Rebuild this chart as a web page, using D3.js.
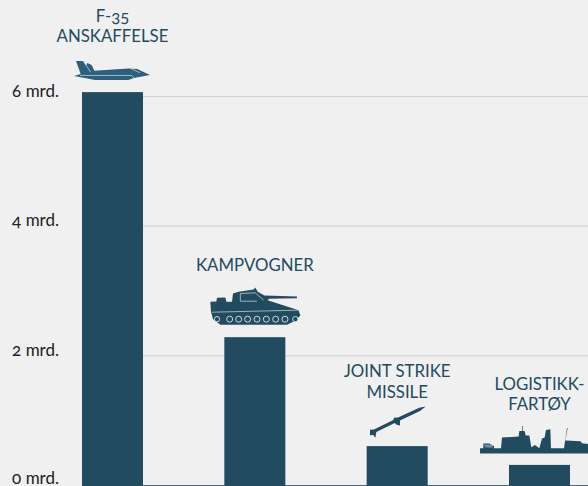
<!DOCTYPE html>
<html>
<head>
<meta charset="utf-8">
<script src="https://cdnjs.cloudflare.com/ajax/libs/d3/7.8.5/d3.min.js"></script>
<style>
  html, body { margin: 0; padding: 0; background: #f0f0f0; overflow: hidden; }
  svg { display: block; font-family: Lato, "Open Sans", sans-serif; font-variant-numeric: oldstyle-nums; }
</style>
</head>
<body>
<div id="app"></div>
<script>
const width = 588;
const height = 486;

const categories = ['f35', 'kampvogner', 'jsm', 'logistikk'];
const values = [6.06, 2.28, 0.6, 0.31];
const tickValues = [0, 2, 4, 6];
const labels = [
  ['F-35', 'ANSKAFFELSE'],
  ['KAMPVOGNER'],
  ['JOINT STRIKE', 'MISSILE'],
  ['LOGISTIKK-', 'FARTØY'],
];
// gap between bar top and last baseline of its label
const labelOffsets = [50, 66, 48, 55];
const lineHeights = [20, 20, 21, 20];

const dark = '#224b60';
const iconBlue = '#2b5f7c';

const x = d3.scaleBand().domain(categories).range([82, 570]).paddingInner(0.5714).paddingOuter(0);
const y = d3.scaleLinear().domain([0, 6]).range([485, 96]);

const svg = d3.select('#app').append('svg')
  .attr('width', width)
  .attr('height', height);

svg.append('rect').attr('width', width).attr('height', height).attr('fill', '#f0f0f0');

const grid = svg.append('g')
  .attr('transform', 'translate(82,0)')
  .call(d3.axisLeft(y).tickValues(tickValues).tickSize(-(width - 82)).tickFormat((d)=>`${d} mrd.`));
grid.select('.domain').remove();
grid.selectAll('.tick line')
  .attr('stroke', (d)=>d === 0 ? '#4a6b7c' : '#d0d0d0')
  .attr('stroke-width', 1);
grid.selectAll('.tick text')
  .attr('x', -23)
  .attr('dy', (d)=>d === 0 ? -2 : 0)
  .attr('fill', '#222')
  .attr('font-family', 'Lato, "Open Sans", sans-serif')
  .attr('font-size', 17);

svg.append('g')
  .selectAll('rect')
  .data(values)
  .join('rect')
  .attr('x', (d, i)=>x(categories[i]))
  .attr('y', (d)=>y(d))
  .attr('width', x.bandwidth())
  .attr('height', (d)=>y(0) - y(d) + 1)
  .attr('fill', dark);

const label = svg.append('g')
  .selectAll('text')
  .data(labels)
  .join('text')
  .attr('text-anchor', 'middle')
  .attr('fill', dark)
  .attr('font-size', 16.8);
label.each(function(lines, i) {
  const lastY = y(values[i]) - labelOffsets[i];
  d3.select(this).selectAll('tspan')
    .data(lines)
    .join('tspan')
    .attr('x', x(categories[i]) + x.bandwidth() / 2)
    .attr('y', (d, j)=>lastY - (lines.length - 1 - j) * lineHeights[i])
    .text((d)=>d);
});

// icons, drawn at 3x and scaled down
const icons = [
  {
    origin: [337.5, 276],
    fill: iconBlue,
    body: 'M228,183 L250,183 L258,196 L262,189 L275,195 L283,212 L385,205 L412,207 L450,225 L402,234 L385,240 L285,240 L222,228 L242,222 Z',
    lines: ['M240,226 L395,226 L402,234', 'M250,183 L272,216', 'M392,205 L420,218'],
  },
  {
    origin: [193.5, 261],
    fill: dark,
    body: 'M60,155 L78,154 L80,143 L105,142 L108,155 L125,155 L128,130 L145,125 L190,118 L195,112 L202,125 L222,136 L320,139 L320,144 L236,146 L232,150 L325,180 L330,196 L315,212 L290,224 L90,224 L68,207 L62,185 Z',
    lines: ['M150,130 L150,153 L200,153', 'M150,130 L195,128 L220,150', 'M65,186 L325,180'],
    wheels: [80, 118, 145, 172, 200, 228, 256, 284, 315],
    wheelY: 207,
  },
  {
    origin: [169.5, 258],
    fill: dark,
    body: 'M255,139 L238,153 L178,181 L178,196 L168,194 L162,189 L107,216 L104,233 L97,224 L88,226 L88,209 L100,208 L158,180 L160,173 L172,172 L236,143 Z',
    lines: [],
  },
  {
    origin: [208.5, 285],
    fill: dark,
    body: 'M30,235 L40,235 L40,221 L58,221 L72,228 L72,235 L93,235 L96,203 L146,200 L148,183 L156,183 L156,168 L158,168 L158,183 L164,183 L167,197 L178,197 L184,232 L195,225 L208,235 L216,206 L224,203 L228,180 L241,178 L243,235 L282,235 L291,174 L293,174 L286,212 L332,214 L336,220 L354,222 L354,251 L30,251 Z',
    lines: ['M42,226 L70,226', 'M46,231 L68,231'],
  },
];

const icon = svg.append('g')
  .selectAll('g')
  .data(icons)
  .join('g')
  .attr('transform', (d, i)=>`translate(${x(categories[i]) + x.bandwidth() / 2},${y(values[i])}) scale(${1 / 3}) translate(${-d.origin[0]},${-d.origin[1]})`);

icon.append('path')
  .attr('d', (d)=>d.body)
  .attr('fill', (d)=>d.fill);

icon.each(function(d) {
  const g = d3.select(this);
  g.selectAll('path.detail')
    .data(d.lines)
    .join('path')
    .attr('class', 'detail')
    .attr('d', (l)=>l)
    .attr('fill', 'none')
    .attr('stroke', '#dfe6ea')
    .attr('stroke-width', 2);
  if (d.wheels) {
    g.selectAll('circle')
      .data(d.wheels)
      .join('circle')
      .attr('cx', (w)=>w)
      .attr('cy', d.wheelY)
      .attr('r', (w, i)=>i === 0 || i === d.wheels.length - 1 ? 8 : 9)
      .attr('fill', dark)
      .attr('stroke', '#f0f0f0')
      .attr('stroke-width', 2.5);
  }
});
</script>
</body>
</html>
